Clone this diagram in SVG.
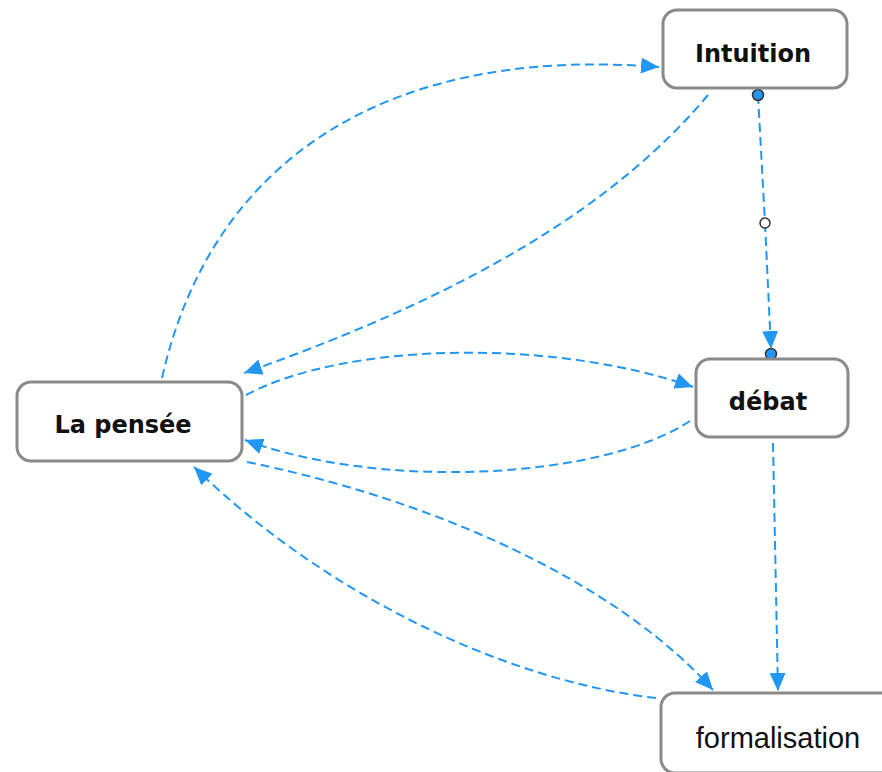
<svg xmlns="http://www.w3.org/2000/svg" width="882" height="772" viewBox="0 0 882 772">
<style>
.box{fill:#fff;stroke:#8a8a8a;stroke-width:3}
.lbl{font-family:"DejaVu Sans",Verdana,sans-serif;font-weight:bold;font-size:24px;fill:#111;text-anchor:middle}
.lblr{font-family:"Liberation Sans",Arial,sans-serif;font-size:29px;fill:#111;text-anchor:middle}
.edge{fill:none;stroke:#2196f3;stroke-width:2;stroke-dasharray:9 5}
.dot{fill:#2196f3;stroke:#333;stroke-width:1.5}
</style>
<defs>
<marker id="arr" markerUnits="userSpaceOnUse" markerWidth="20" markerHeight="18" refX="18" refY="8" orient="auto">
<path d="M0,0 L18,8 L0,16 z" fill="#2196f3"/>
</marker>
</defs>
<rect width="882" height="772" fill="#fff"/>
<g id="connectors">
<path class="edge" d="M162,378 C210,165 380,45 659,67" marker-end="url(#arr)"/>
<path class="edge" d="M708,95 C620,200 480,290 244,373" marker-end="url(#arr)"/>
<path class="edge" d="M246,395 C350,340 560,340 693,387" marker-end="url(#arr)"/>
<path class="edge" d="M690,421 C600,480 380,490 245,440" marker-end="url(#arr)"/>
<path class="edge" d="M247,462 C420,497 610,575 713,690" marker-end="url(#arr)"/>
<path class="edge" d="M656,698 C500,680 320,590 194,467" marker-end="url(#arr)"/>
<path class="edge" d="M773,443 L778,691" marker-end="url(#arr)"/>
<path class="edge" d="M758,95 L765,223"/>
<path class="edge" d="M765,223 L771,349" marker-end="url(#arr)"/>
<circle class="dot" cx="758" cy="95" r="5.5"/>
<circle cx="765" cy="223" r="5" fill="#fff" stroke="#333" stroke-width="1.5"/>
<circle class="dot" cx="771" cy="354" r="5.5"/>
</g>
<g id="node-intuition">
<rect class="box" x="663" y="10" width="184" height="78" rx="14"/>
<text class="lbl" x="753" y="62">Intuition</text>
</g>
<g id="node-debat">
<rect class="box" x="696" y="359" width="152" height="78" rx="14"/>
<text class="lbl" x="768" y="410">débat</text>
</g>
<g id="node-pensee">
<rect class="box" x="17" y="382" width="225" height="79" rx="14"/>
<text class="lbl" x="123" y="433">La pensée</text>
</g>
<g id="node-formalisation">
<rect class="box" x="661" y="693" width="240" height="80" rx="14"/>
<text class="lblr" x="778" y="748">formalisation</text>
</g>
</svg>
